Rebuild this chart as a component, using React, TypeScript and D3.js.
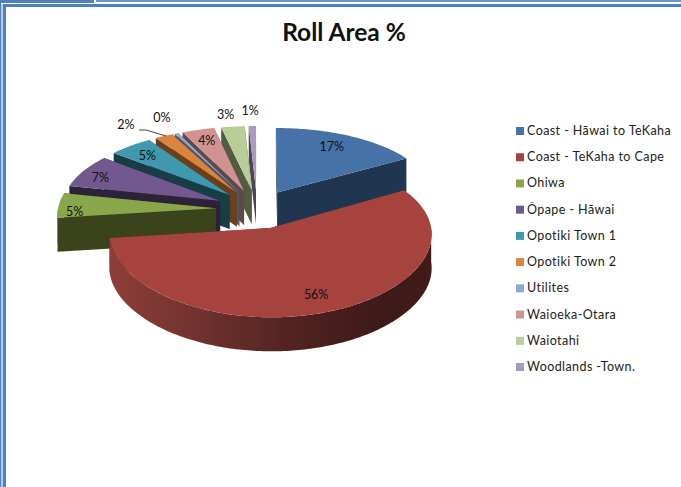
import React from "react";
import * as d3 from "d3";

// Share of the rolled area per district
const districts = [
  "Coast - Hāwai to TeKaha",
  "Coast - TeKaha to Cape",
  "Ohiwa",
  "Ōpape - Hāwai",
  "Opotiki Town 1",
  "Opotiki Town 2",
  "Utilites",
  "Waioeka-Otara",
  "Waiotahi",
  "Woodlands -Town.",
];
const rollArea = [16.6, 56.4, 5.3, 7.4, 4.9, 2.0, 0.4, 3.6, 2.6, 0.8];

const topColours = ["#4672a8", "#a6433f", "#8aa64a", "#71588f", "#4098af", "#db843d", "#93a9cf", "#d19392", "#b9cd96", "#a99bbd"];
const wallColours = ["#1f3550", "#4a1f1d", "#3a431c", "#2d2339", "#173d47", "#6b3f19", "#4c5669", "#5c4a4a", "#535c42", "#4c4555"];

// Where each percentage sits along the slice's centre line (1 = rim), plus a small nudge
const labelRadial = [0.62, 0.72, 0.86, 0.85, 0.8, 1.28, 1.3, 0.8, 1.36, 1.36];
const labelNudge: [number, number][] = [[9, -9], [6, 8], [-6, 6], [-3, 3], [-2, 1], [-19, 3], [3, 0], [0, 0], [-1, 8], [-1, 5]];

// Projection of the tilted, exploded pie
const CX = 257;
const CY = 209;
const R = 158;
const TILT = 75;
const PERSPECTIVE_X = 0.07;
const PERSPECTIVE_Y = 0.11;
const EXPLODE = 0.26;
const DEPTH = 34;

const project = (gx: number, gv: number, drop = 0): [number, number] => {
  const sx = 1 / (1 - PERSPECTIVE_X * gv);
  const sy = 1 / (1 - PERSPECTIVE_Y * gv);
  return [CX + R * gx * sx, CY + TILT * gv * sy + drop];
};

const pie = d3.pie<number>().sort(null).startAngle(0).endAngle(2 * Math.PI);
const arcs = pie(rollArea);
const total = d3.sum(rollArea);
const pct = d3.format(".0%");
const line = d3.line();

type P = [number, number];

const slices = arcs.map((a, i) => {
  const mid = (a.startAngle + a.endAngle) / 2;
  const ox = EXPLODE * Math.sin(mid);
  const ov = -EXPLODE * Math.cos(mid);
  const at = (theta: number, r = 1, drop = 0): P =>
    project(ox + r * Math.sin(theta), ov - r * Math.cos(theta), drop);
  return { i, a, mid, ox, ov, at };
});

const sweep = (from: number, to: number) => {
  const n = Math.max(2, Math.ceil(((to - from) * 180) / Math.PI));
  return d3.scaleLinear().domain([0, n]).range([from, to]);
};

const arcPoints = (s: (typeof slices)[number], from: number, to: number, drop = 0): P[] => {
  const scale = sweep(from, to);
  const [, n] = scale.domain();
  return d3.range(n + 1).map((k) => s.at(scale(k), 1, drop));
};

const topPath = (s: (typeof slices)[number]) =>
  line([s.at(0, 0), ...arcPoints(s, s.a.startAngle, s.a.endAngle)]) + "Z";

const cutWall = (s: (typeof slices)[number], theta: number) =>
  line([s.at(0, 0), s.at(theta), s.at(theta, 1, DEPTH), s.at(0, 0, DEPTH)]) + "Z";

const rimWall = (s: (typeof slices)[number]) => {
  const from = Math.max(s.a.startAngle, Math.PI / 2);
  const to = Math.min(s.a.endAngle, (3 * Math.PI) / 2);
  if (to <= from) return null;
  const upper = arcPoints(s, from, to);
  const lower = arcPoints(s, from, to, DEPTH).reverse();
  return line([...upper, ...lower]) + "Z";
};

// Painter's order: the slices farthest from the viewer first
const paintOrder = [...slices].sort((p, q) => p.at(0, 0)[1] - q.at(0, 0)[1]);

const rimStops: [number, string][] = [
  [0, "#8f3e3a"],
  [0.3, "#6e312e"],
  [0.6, "#4f211f"],
  [0.85, "#3d1a18"],
  [1, "#421b19"],
];

const legendY = d3.scalePoint<string>().domain(districts).range([131, 367]);

export default function App() {
  return (
    <svg
      width={681}
      height={487}
      viewBox="0 0 681 487"
      style={{ position: "absolute", left: 0, top: 0, display: "block", background: "#fff" }}
    >
      <defs>
        <linearGradient id="rim" gradientUnits="userSpaceOnUse" x1={107} x2={432} y1={0} y2={0}>
          {rimStops.map(([o, c]) => (
            <stop key={o} offset={o} stopColor={c} />
          ))}
        </linearGradient>
      </defs>

      {/* window frame */}
      <rect x={0} y={0} width={94} height={3} fill="#4f81bd" />
      <rect x={96} y={0} width={585} height={2} fill="#6d97c9" />
      <rect x={0} y={4} width={681} height={3} fill="#4f81bd" />
      <rect x={0} y={0} width={1} height={487} fill="#4f81bd" />
      <rect x={1} y={4} width={2} height={483} fill="#b8cce4" />
      <rect x={3} y={4} width={3} height={483} fill="#4f81bd" />

      <text x={344} y={41} textAnchor="middle" fontFamily="Lato" fontWeight={700} fontSize={24.5} fill="#111">
        Roll Area %
      </text>

      {paintOrder.map((s) => {
        const rim = rimWall(s);
        const cuts = [s.a.startAngle, s.a.endAngle]
          .map((t) => ({ t, y: s.at(t)[1] }))
          .sort((p, q) => p.y - q.y);
        return (
          <g key={s.i}>
            {cuts.map(({ t }) => (
              <path key={t} d={cutWall(s, t)} fill={wallColours[s.i]} />
            ))}
            {rim && <path d={rim} fill={s.i === 1 ? "url(#rim)" : wallColours[s.i]} />}
            <path d={topPath(s)} fill={topColours[s.i]} />
          </g>
        );
      })}

      {/* leader for the small Opotiki Town 2 share */}
      <path
        d={line([[139, 130], [146, 130], [166, 136]]) ?? ""}
        fill="none"
        stroke="#444"
        strokeWidth={1}
      />

      {slices.map((s) => {
        const [x, y] = s.at(s.mid, labelRadial[s.i]);
        const [nx, ny] = labelNudge[s.i];
        return (
          <text
            key={s.i}
            x={x + nx}
            y={y + ny + 4}
            textAnchor="middle"
            fontFamily="Lato"
            fontSize={12.5}
            fill="#111"
          >
            {pct(s.a.value / total)}
          </text>
        );
      })}

      {districts.map((name, i) => {
        const y = legendY(name) ?? 0;
        return (
          <g key={name}>
            <rect x={516} y={y - 4} width={8} height={8} fill={topColours[i]} />
            <text x={527} y={y + 4} fontFamily="Lato" fontSize={12.5} letterSpacing={0.42} fill="#222">
              {name}
            </text>
          </g>
        );
      })}
    </svg>
  );
}
